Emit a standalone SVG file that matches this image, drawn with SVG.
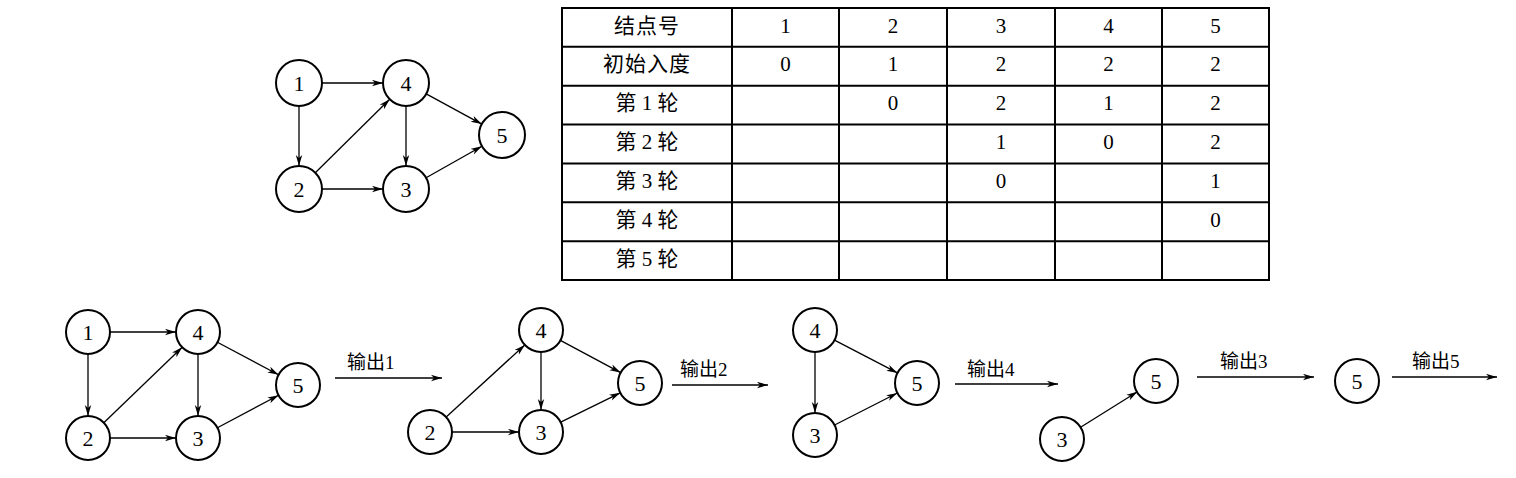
<svg xmlns="http://www.w3.org/2000/svg" width="1516" height="478" viewBox="0 0 1516 478">
<defs>
<marker id="ah" markerUnits="userSpaceOnUse" markerWidth="12" markerHeight="8" refX="11" refY="3.5" orient="auto">
<path d="M0,0.3 L11,3.5 L0,6.7 L3,3.5 z" fill="#000"/>
</marker>
<style>
.n circle{fill:#fff;stroke:#000;stroke-width:2}
.n text{font-family:"Liberation Serif","Times New Roman",serif;font-size:22px;text-anchor:middle}
.e line{stroke:#000;stroke-width:1.3;marker-end:url(#ah)}
.lbl{font-family:"Liberation Serif","Noto Sans CJK SC",serif;font-size:19px}
.tb line{stroke:#000;stroke-width:2}
.tt{font-family:"Liberation Serif","Noto Sans CJK SC",serif;font-size:21px;text-anchor:middle}
.cj{letter-spacing:1px}
</style>
</defs>
<rect width="1516" height="478" fill="#fff"/>

<!-- top graph -->
<g id="connectors-top" class="e">
<line x1="322" y1="83" x2="383" y2="83"/>
<line x1="299" y1="106" x2="299" y2="166"/>
<line x1="322" y1="189" x2="383" y2="189"/>
<line x1="406" y1="106" x2="406" y2="166"/>
<line x1="315.3" y1="172.8" x2="389.7" y2="99.2"/>
<line x1="426.2" y1="93.9" x2="481.8" y2="124.1"/>
<line x1="426.1" y1="177.7" x2="481.9" y2="146.3"/>
</g>
<g id="t1" class="n"><circle cx="299" cy="83" r="23"/><text x="299" y="91">1</text></g>
<g id="t4" class="n"><circle cx="406" cy="83" r="23"/><text x="406" y="91">4</text></g>
<g id="t2" class="n"><circle cx="299" cy="189" r="23"/><text x="299" y="197">2</text></g>
<g id="t3" class="n"><circle cx="406" cy="189" r="23"/><text x="406" y="197">3</text></g>
<g id="t5" class="n"><circle cx="502" cy="135" r="23"/><text x="502" y="143">5</text></g>

<!-- table -->
<g id="table">
<g class="tb">
<line x1="562" y1="8" x2="1269" y2="8"/>
<line x1="562" y1="46.86" x2="1269" y2="46.86"/>
<line x1="562" y1="85.71" x2="1269" y2="85.71"/>
<line x1="562" y1="124.57" x2="1269" y2="124.57"/>
<line x1="562" y1="163.43" x2="1269" y2="163.43"/>
<line x1="562" y1="202.29" x2="1269" y2="202.29"/>
<line x1="562" y1="241.14" x2="1269" y2="241.14"/>
<line x1="562" y1="280" x2="1269" y2="280"/>
<line x1="562" y1="7" x2="562" y2="281"/>
<line x1="732" y1="7" x2="732" y2="281"/>
<line x1="839" y1="7" x2="839" y2="281"/>
<line x1="947" y1="7" x2="947" y2="281"/>
<line x1="1055" y1="7" x2="1055" y2="281"/>
<line x1="1162" y1="7" x2="1162" y2="281"/>
<line x1="1269" y1="7" x2="1269" y2="281"/>
</g>
<g class="tt">
<text class="cj" x="647" y="32.5">结点号</text>
<text x="785.5" y="32.5">1</text><text x="893" y="32.5">2</text><text x="1001" y="32.5">3</text><text x="1108.5" y="32.5">4</text><text x="1215.5" y="32.5">5</text>
<text class="cj" x="647" y="71.4">初始入度</text>
<text x="785.5" y="71.4">0</text><text x="893" y="71.4">1</text><text x="1001" y="71.4">2</text><text x="1108.5" y="71.4">2</text><text x="1215.5" y="71.4">2</text>
<text x="647" y="110.2">第 1 轮</text>
<text x="893" y="110.2">0</text><text x="1001" y="110.2">2</text><text x="1108.5" y="110.2">1</text><text x="1215.5" y="110.2">2</text>
<text x="647" y="149.1">第 2 轮</text>
<text x="1001" y="149.1">1</text><text x="1108.5" y="149.1">0</text><text x="1215.5" y="149.1">2</text>
<text x="647" y="188">第 3 轮</text>
<text x="1001" y="188">0</text><text x="1215.5" y="188">1</text>
<text x="647" y="226.8">第 4 轮</text>
<text x="1215.5" y="226.8">0</text>
<text x="647" y="265.6">第 5 轮</text>
</g>
</g>

<!-- bottom connectors -->
<g id="connectors-bottom" class="e">
<line x1="110" y1="332" x2="176" y2="332"/>
<line x1="88" y1="354" x2="88" y2="416"/>
<line x1="110" y1="438" x2="176" y2="438"/>
<line x1="198" y1="354" x2="198" y2="416"/>
<line x1="103.8" y1="422.7" x2="182.2" y2="347.3"/>
<line x1="217.4" y1="342.3" x2="278.6" y2="374.7"/>
<line x1="217.4" y1="427.7" x2="278.6" y2="395.3"/>
<line x1="335" y1="378" x2="442" y2="378"/>

<line x1="446.2" y1="417.1" x2="524.8" y2="344.9"/>
<line x1="452" y1="432" x2="519" y2="432"/>
<line x1="541" y1="352" x2="541" y2="410"/>
<line x1="560.4" y1="340.4" x2="620.6" y2="372.6"/>
<line x1="560.7" y1="422.2" x2="620.3" y2="392.8"/>
<line x1="672" y1="385" x2="768" y2="385"/>

<line x1="815" y1="352" x2="815" y2="413"/>
<line x1="834.5" y1="340.1" x2="897.5" y2="372.9"/>
<line x1="834.6" y1="425" x2="897.4" y2="393"/>
<line x1="955" y1="384" x2="1058" y2="384"/>

<line x1="1080.6" y1="427.3" x2="1137.4" y2="391.7"/>
<line x1="1197" y1="377" x2="1314" y2="377"/>
<line x1="1392" y1="377" x2="1497" y2="377"/>
</g>
<g id="labels">
<text class="lbl" x="347" y="369">输出1</text>
<text class="lbl" x="680" y="376">输出2</text>
<text class="lbl" x="967" y="376">输出4</text>
<text class="lbl" x="1220" y="368">输出3</text>
<text class="lbl" x="1412" y="368">输出5</text>
</g>

<g id="a1" class="n"><circle cx="88" cy="332" r="22"/><text x="88" y="340">1</text></g>
<g id="a4" class="n"><circle cx="198" cy="332" r="22"/><text x="198" y="340">4</text></g>
<g id="a2" class="n"><circle cx="88" cy="438" r="22"/><text x="88" y="446">2</text></g>
<g id="a3" class="n"><circle cx="198" cy="438" r="22"/><text x="198" y="446">3</text></g>
<g id="a5" class="n"><circle cx="298" cy="385" r="22"/><text x="298" y="393">5</text></g>

<g id="b4" class="n"><circle cx="541" cy="330" r="22"/><text x="541" y="338">4</text></g>
<g id="b2" class="n"><circle cx="430" cy="432" r="22"/><text x="430" y="440">2</text></g>
<g id="b3" class="n"><circle cx="541" cy="432" r="22"/><text x="541" y="440">3</text></g>
<g id="b5" class="n"><circle cx="640" cy="383" r="22"/><text x="640" y="391">5</text></g>

<g id="c4" class="n"><circle cx="815" cy="330" r="22"/><text x="815" y="338">4</text></g>
<g id="c3" class="n"><circle cx="815" cy="435" r="22"/><text x="815" y="443">3</text></g>
<g id="c5" class="n"><circle cx="917" cy="383" r="22"/><text x="917" y="391">5</text></g>

<g id="d3" class="n"><circle cx="1062" cy="439" r="22"/><text x="1062" y="447">3</text></g>
<g id="d5" class="n"><circle cx="1156" cy="381" r="22"/><text x="1156" y="389">5</text></g>

<g id="e5" class="n"><circle cx="1357" cy="381" r="22"/><text x="1357" y="389">5</text></g>
</svg>
